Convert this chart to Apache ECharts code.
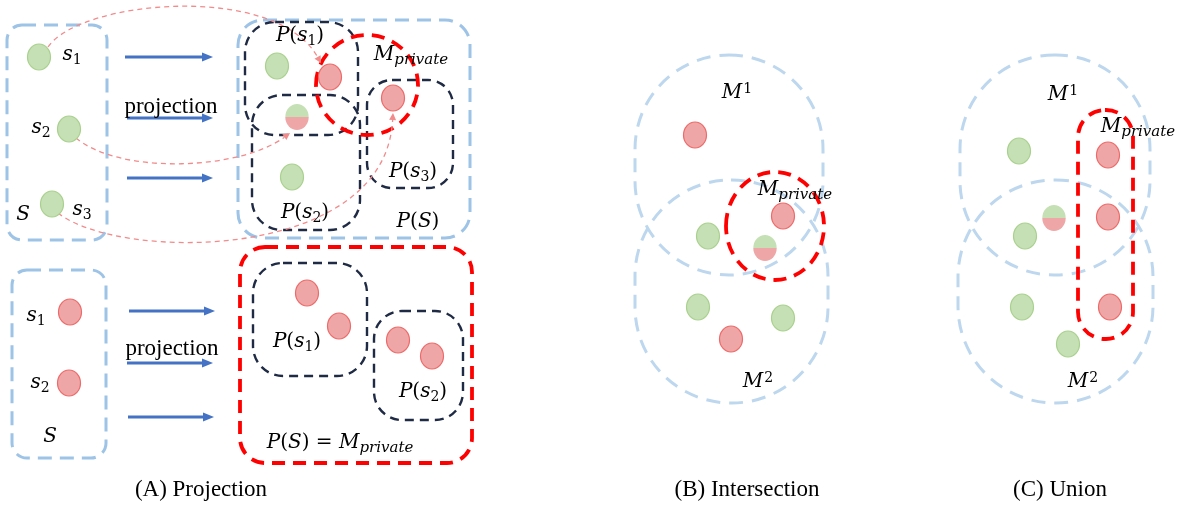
<!DOCTYPE html>
<html><head><meta charset="utf-8">
<script src="https://cdn.jsdelivr.net/npm/echarts@6/dist/echarts.min.js"></script>
<style>html,body{margin:0;padding:0;background:#fff}#c{width:1193px;height:510px}</style>
</head><body><div id="c"></div>
<script>
// ---- diagram data (units of the hidden x / y axes) ----
const greenDots = [[39,57],[69,129],[52,204],[277,66],[292,177],
  [708,236],[698,307],[783,318],
  [1019,151],[1025,236],[1022,307],[1068,344]];
const redDots = [[330,77],[393,98],[70,312],[69,383],[307,293],[339,326],[398,340],[432,356],
  [695,135],[783,216],[731,339],
  [1108,155],[1108,217],[1110,307]];
const halfDots = [[297,117],[765,248],[1054,218]];
// boxes: x1, y1, x2, y2, corner radius
const setBoxes = [[7,25,107,240,15],[238,20,470,238,25],[12,270,106,458,15]];
const partBoxes = [[245,22,358,135,30],[252,95,360,230,30],[367,80,453,188,25],[253,263,367,376,30],[374,311,463,420,28]];
const privateBoxes = [[240,247,472,463,25],[1078,110,1133,339,27]];
const regionBoxes = [[635,55,823,275,94],[635,180,828,403,96],[960,55,1150,275,94],[958,180,1153,403,97]];
// ellipses: cx, cy, rx, ry
const privateEllipses = [[367,85,51,50],[775,226,49,54]];
// arrows: x1, y1, x2, y2
const projArrows = [[125,57,213,57],[127,118,213,118],[127,178,213,178],[129,311,215,311],[127,363,213,363],[128,417,214,417]];
// curves: start, control 1, control 2, end
const mapCurves = [[48,47,80,0,275,-18,321,63],[76,138,120,175,240,170,290,133],[58,213,120,262,385,262,393,113]];
// math labels: x, y, rich text
const mathLabels = [
  [72,55,'{i|s}{sb|1}'],[41,128,'{i|s}{sb|2}'],[82,210,'{i|s}{sb|3}'],[23,215,'{i|S}'],
  [300,36,'{i|P}{n|(}{i|s}{sb|1}{n|)}'],[411,55,'{i|M}{sbi|private}'],[413,172,'{i|P}{n|(}{i|s}{sb|3}{n|)}'],
  [305,213,'{i|P}{n|(}{i|s}{sb|2}{n|)}'],[418,222,'{i|P}{n|(}{i|S}{n|)}'],
  [36,316,'{i|s}{sb|1}'],[40,383,'{i|s}{sb|2}'],[50,437,'{i|S}'],
  [297,342,'{i|P}{n|(}{i|s}{sb|1}{n|)}'],[423,392,'{i|P}{n|(}{i|s}{sb|2}{n|)}'],
  [340,443,'{i|P}{n|(}{i|S}{n|) = }{i|M}{sbi|private}'],
  [737,93,'{i|M}{sp|1}'],[795,190,'{i|M}{sbi|private}'],[758,382,'{i|M}{sp|2}'],
  [1063,95,'{i|M}{sp|1}'],[1138,127,'{i|M}{sbi|private}'],[1083,382,'{i|M}{sp|2}']
];
const textLabels = [[171,107,'projection'],[172,349,'projection'],[201,490,'(A) Projection'],[747,490,'(B) Intersection'],[1060,490,'(C) Union']];

// ---- styles ----
const GREEN_FILL='#C5E0B4', GREEN_LINE='#A9D18E', RED_FILL='#EFA6A6', RED_LINE='#EE6A6A';
const MF='DejaVu Serif';
const mathRich = {
  i:{fontFamily:MF,fontStyle:'italic',fontSize:20,lineHeight:32,fill:'#000'},
  n:{fontFamily:MF,fontSize:20,lineHeight:32,fill:'#000'},
  sb:{fontFamily:MF,fontSize:14,lineHeight:14,verticalAlign:'bottom',padding:[0,0,4,0],fill:'#000'},
  sbi:{fontFamily:MF,fontStyle:'italic',fontSize:15,lineHeight:15,verticalAlign:'bottom',padding:[0,0,3,0],fill:'#000'},
  sp:{fontFamily:MF,fontSize:14,lineHeight:14,verticalAlign:'top',padding:[5,0,0,1],fill:'#000'}
};

function pt(api, x, y){ return api.coord([x, y]); }

function boxSeries(data, color, width, dash){
  return {type:'custom', coordinateSystem:'cartesian2d', silent:true, data,
    renderItem(params, api){
      const a = pt(api, api.value(0), api.value(1));
      const b = pt(api, api.value(2), api.value(3));
      const rs = api.size([api.value(4), api.value(4)]);
      return {type:'rect', shape:{x:Math.min(a[0],b[0]), y:Math.min(a[1],b[1]),
        width:Math.abs(b[0]-a[0]), height:Math.abs(b[1]-a[1]), r:Math.min(rs[0],rs[1])},
        style:{fill:'none', stroke:color, lineWidth:width, lineDash:dash}};
    }};
}
function dotSeries(data, fill, stroke){
  return {type:'custom', coordinateSystem:'cartesian2d', silent:true, data,
    renderItem(params, api){
      const c = pt(api, api.value(0), api.value(1));
      return {type:'ellipse', shape:{cx:c[0], cy:c[1], rx:11.5, ry:13},
        style:{fill, stroke, lineWidth:1.2}};
    }};
}

const option = {
  animation:false,
  grid:{left:0,right:0,top:0,bottom:0},
  xAxis:{type:'value', min:0, max:1193, show:false},
  yAxis:{type:'value', min:0, max:510, inverse:true, show:false},
  series:[
    boxSeries(regionBoxes, '#BDD7EE', 3, [14,9]),
    boxSeries(setBoxes, '#9DC3E6', 3, [14,8]),
    boxSeries(partBoxes, '#1F2A44', 2.4, [9,6]),
    boxSeries(privateBoxes, '#FF0000', 3.8, [13,8]),
    {type:'custom', coordinateSystem:'cartesian2d', silent:true, data:privateEllipses,
      renderItem(params, api){
        const c = pt(api, api.value(0), api.value(1));
        const s = api.size([api.value(2), api.value(3)]);
        return {type:'ellipse', shape:{cx:c[0], cy:c[1], rx:s[0], ry:s[1]},
          style:{fill:'none', stroke:'#FF0000', lineWidth:3.8, lineDash:[13,8]}};
      }},
    {type:'custom', coordinateSystem:'cartesian2d', silent:true, data:mapCurves,
      renderItem(params, api){
        const p0 = pt(api, api.value(0), api.value(1)), p1 = pt(api, api.value(2), api.value(3));
        const p2 = pt(api, api.value(4), api.value(5)), p3 = pt(api, api.value(6), api.value(7));
        let dx = p3[0]-p2[0], dy = p3[1]-p2[1]; const L = Math.hypot(dx,dy); dx/=L; dy/=L;
        const hl = 7, hw = 3.5;
        const bx = p3[0]-dx*hl, by = p3[1]-dy*hl;
        return {type:'group', children:[
          {type:'bezierCurve', shape:{x1:p0[0],y1:p0[1],cpx1:p1[0],cpy1:p1[1],cpx2:p2[0],cpy2:p2[1],x2:bx,y2:by},
            style:{fill:'none', stroke:'#F28B8B', lineWidth:1.3, lineDash:[5,4]}},
          {type:'polygon', shape:{points:[[p3[0],p3[1]],[bx-dy*hw,by+dx*hw],[bx+dy*hw,by-dx*hw]]},
            style:{fill:'#F28B8B'}}
        ]};
      }},
    {type:'custom', coordinateSystem:'cartesian2d', silent:true, data:projArrows,
      renderItem(params, api){
        const a = pt(api, api.value(0), api.value(1)), b = pt(api, api.value(2), api.value(3));
        const hl = 11, hw = 4.5;
        return {type:'group', children:[
          {type:'line', shape:{x1:a[0],y1:a[1],x2:b[0]-hl+1,y2:b[1]}, style:{stroke:'#4472C4', lineWidth:2.8}},
          {type:'polygon', shape:{points:[[b[0],b[1]],[b[0]-hl,b[1]-hw],[b[0]-hl,b[1]+hw]]}, style:{fill:'#4472C4'}}
        ]};
      }},
    dotSeries(greenDots, GREEN_FILL, GREEN_LINE),
    dotSeries(redDots, RED_FILL, RED_LINE),
    {type:'custom', coordinateSystem:'cartesian2d', silent:true, data:halfDots,
      renderItem(params, api){
        const c = pt(api, api.value(0), api.value(1));
        return {type:'group', x:c[0], y:c[1], scaleX:0.9, children:[
          {type:'sector', shape:{cx:0, cy:0, r:13, r0:0, startAngle:Math.PI, endAngle:2*Math.PI, clockwise:true}, style:{fill:GREEN_FILL}},
          {type:'sector', shape:{cx:0, cy:0, r:13, r0:0, startAngle:0, endAngle:Math.PI, clockwise:true}, style:{fill:RED_FILL}}
        ]};
      }},
    {type:'custom', coordinateSystem:'cartesian2d', silent:true, data:mathLabels.map(d=>[d[0],d[1]]),
      renderItem(params, api){
        const c = pt(api, api.value(0), api.value(1));
        return {type:'text', style:{text:mathLabels[params.dataIndex][2], x:c[0], y:c[1],
          align:'center', verticalAlign:'middle', rich:mathRich, fontFamily:MF, fontSize:20, fill:'#000'}};
      }},
    {type:'custom', coordinateSystem:'cartesian2d', silent:true, data:textLabels.map(d=>[d[0],d[1]]),
      renderItem(params, api){
        const c = pt(api, api.value(0), api.value(1));
        return {type:'text', style:{text:textLabels[params.dataIndex][2], x:c[0], y:c[1],
          align:'center', verticalAlign:'middle', fontFamily:'Liberation Serif', fontSize:23, fill:'#000'}};
      }}
  ]
};
const chart = echarts.init(document.getElementById('c'));
chart.setOption(option);
</script></body></html>
